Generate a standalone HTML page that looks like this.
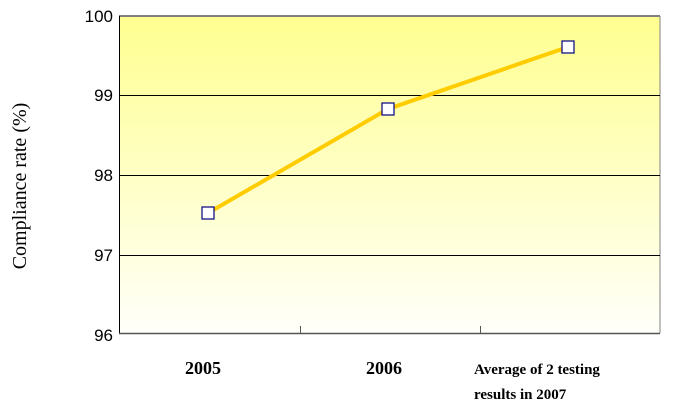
<!DOCTYPE html><html><head><style>body{margin:0;background:#fff;width:673px;height:408px;overflow:hidden}</style></head><body>
<svg width="673" height="408" xmlns="http://www.w3.org/2000/svg">
<defs><linearGradient id="g" x1="0" y1="0" x2="0" y2="1"><stop offset="0" stop-color="#ffff90"/><stop offset="1" stop-color="#fffffa"/></linearGradient></defs>
<rect x="119" y="16" width="541" height="317" fill="url(#g)"/>
<line x1="119" y1="16" x2="660" y2="16" stroke="#808080" stroke-width="2"/>
<line x1="660" y1="16" x2="660" y2="333" stroke="#808080" stroke-width="1"/>
<g stroke="#000" stroke-width="1">
<line x1="119" y1="95.5" x2="660" y2="95.5"/><line x1="119" y1="175.5" x2="660" y2="175.5"/><line x1="119" y1="255.5" x2="660" y2="255.5"/>
<line x1="119.5" y1="16" x2="119.5" y2="334"/></g>
<line x1="119" y1="333.5" x2="660" y2="333.5" stroke="#555" stroke-width="1.5"/>
<line x1="300.5" y1="326" x2="300.5" y2="334" stroke="#555"/><line x1="480.5" y1="326" x2="480.5" y2="334" stroke="#555"/>
<polyline points="208,213 388,109 568,47" fill="none" stroke="#ffcc00" stroke-width="4"/>
<g fill="#fff" stroke="#000080" stroke-width="1.2"><rect x="202" y="207" width="12" height="12"/><rect x="382" y="103" width="12" height="12"/><rect x="562" y="41" width="12" height="12"/></g>
<g font-family="Liberation Sans, sans-serif" font-size="17" text-anchor="end" fill="#000">
<text x="113" y="22">100</text><text x="113" y="101">99</text><text x="113" y="181">98</text><text x="113" y="261">97</text><text x="113" y="341">96</text></g>
<text transform="translate(26,186) rotate(-90)" text-anchor="middle" font-family="Liberation Serif, serif" font-size="20">Compliance rate (%)</text>
<g font-family="Liberation Serif, serif" font-weight="bold" font-size="18" text-anchor="middle"><text x="203" y="374">2005</text><text x="384" y="374">2006</text></g>
<g font-family="Liberation Serif, serif" font-weight="bold" font-size="15"><text x="474" y="374">Average of 2 testing</text><text x="474" y="399">results in 2007</text></g>
</svg></body></html>
